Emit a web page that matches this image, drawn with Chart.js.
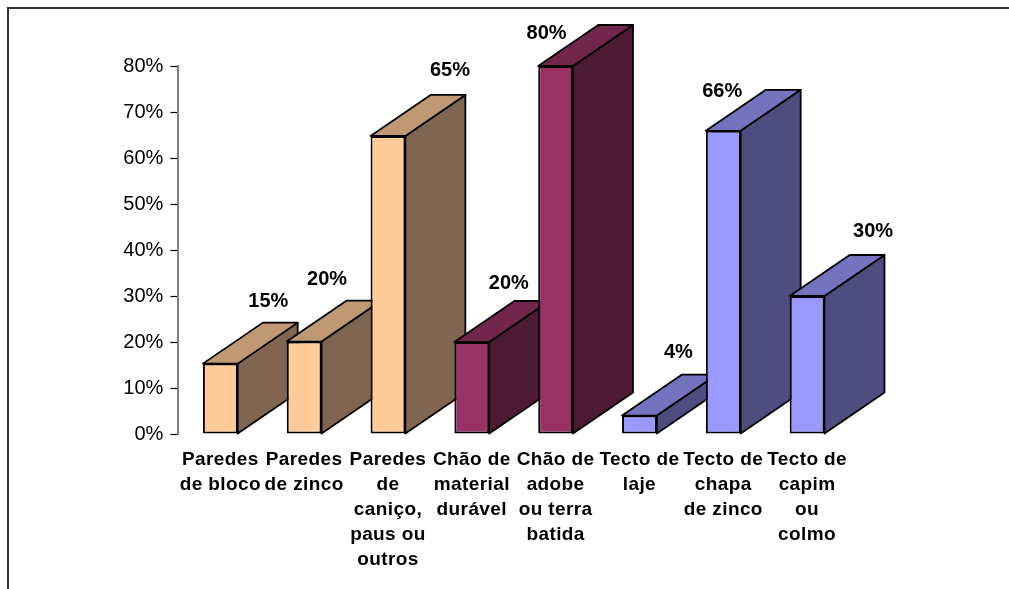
<!DOCTYPE html>
<html>
<head>
<meta charset="utf-8">
<title>Paredes, chão e tecto</title>
<script src="https://cdn.jsdelivr.net/npm/chart.js@4/dist/chart.umd.min.js"></script>
<style>
  html, body { margin: 0; padding: 0; background: #fff; overflow: hidden; }
  #wrap { position: relative; width: 1009px; height: 589px; }
  #frame { position: absolute; left: 7px; top: 7px; right: 0; bottom: 0; border-left: 2px solid #333; border-top: 2px solid #333; }
  canvas { position: absolute; left: 0; top: 0; }
</style>
</head>
<body>
<div id="wrap">
  <div id="frame"></div>
  <canvas id="chart" width="1009" height="589"></canvas>
</div>
<script>
const categories = [
  ['Paredes', 'de bloco'],
  ['Paredes', 'de zinco'],
  ['Paredes', 'de', 'caniço,', 'paus ou', 'outros'],
  ['Chão de', 'material', 'durável'],
  ['Chão de', 'adobe', 'ou terra', 'batida'],
  ['Tecto de', 'laje'],
  ['Tecto de', 'chapa', 'de zinco'],
  ['Tecto de', 'capim', 'ou', 'colmo']
];
const values = [15.3, 20.1, 64.8, 20, 80, 4, 65.9, 30];

const frontColors = ['#FFCC99', '#FFCC99', '#FFCC99', '#993366', '#993366', '#9999FF', '#9999FF', '#9999FF'];
const topColors = ['#BF9973', '#BF9973', '#BF9973', '#73264D', '#73264D', '#7373BF', '#7373BF', '#7373BF'];
const sideColors = ['#806650', '#806650', '#806650', '#4D1A33', '#4D1A33', '#4D4D80', '#4D4D80', '#4D4D80'];

// hand placed value labels, relative to the top of each bar
const labelDx = [48, 23, 62, 37, -9, 39, -1, 66];
const labelDy = [-62.5, -62.5, -65.5, -58.5, -33, -63.5, -39.5, -64.5];

const depthX = 60;
const depthY = 41;

// side and top faces go under the fronts, left to right
const boxFaces = {
  id: 'boxFaces',
  beforeDatasetsDraw(chart) {
    const ctx = chart.ctx;
    const bars = chart.getDatasetMeta(0).data;
    ctx.save();
    ctx.strokeStyle = '#000';
    ctx.lineWidth = 1.8;
    ctx.lineJoin = 'round';
    bars.forEach((bar, i) => {
      const left = bar.x - bar.width / 2;
      const right = bar.x + bar.width / 2;

      ctx.fillStyle = sideColors[i];
      ctx.beginPath();
      ctx.moveTo(right, bar.base);
      ctx.lineTo(right + depthX, bar.base - depthY);
      ctx.lineTo(right + depthX, bar.y - depthY);
      ctx.lineTo(right, bar.y);
      ctx.closePath();
      ctx.fill();
      ctx.stroke();

      ctx.fillStyle = topColors[i];
      ctx.beginPath();
      ctx.moveTo(left, bar.y);
      ctx.lineTo(left + depthX, bar.y - depthY);
      ctx.lineTo(right + depthX, bar.y - depthY);
      ctx.lineTo(right, bar.y);
      ctx.closePath();
      ctx.fill();
      ctx.stroke();
    });
    ctx.restore();
  }
};

const valueLabels = {
  id: 'valueLabels',
  afterDatasetsDraw(chart) {
    const ctx = chart.ctx;
    const bars = chart.getDatasetMeta(0).data;
    ctx.save();
    ctx.font = 'bold 20px "Liberation Sans"';
    ctx.fillStyle = '#000';
    ctx.textAlign = 'center';
    ctx.textBaseline = 'middle';
    bars.forEach((bar, i) => {
      ctx.fillText(Math.round(values[i]) + '%', bar.x + labelDx[i], bar.y + labelDy[i]);
    });
    ctx.restore();
    // x tick labels have z 1, so they are drawn after this
    ctx.letterSpacing = '0.4px';
  },
  afterDraw(chart) {
    chart.ctx.letterSpacing = '0px';
  }
};

new Chart(document.getElementById('chart'), {
  type: 'bar',
  data: {
    labels: categories,
    datasets: [{
      data: values,
      backgroundColor: frontColors,
      borderColor: '#000',
      borderWidth: 2,
      borderSkipped: false,
      barPercentage: 1,
      categoryPercentage: 0.415
    }]
  },
  plugins: [boxFaces, valueLabels],
  options: {
    responsive: false,
    animation: false,
    layout: { padding: { top: 66, right: 160, bottom: 0, left: 0 } },
    plugins: { legend: { display: false }, tooltip: { enabled: false } },
    scales: {
      x: {
        afterFit(scale) { scale.height = 155; },
        grid: { display: false },
        border: { display: false },
        ticks: {
          z: 1,
          autoSkip: false,
          maxRotation: 0,
          padding: 5,
          color: '#000',
          font: { family: '"Liberation Sans"', size: 19, weight: 'bold', lineHeight: 1.32 }
        }
      },
      y: {
        min: 0,
        max: 80,
        afterFit(scale) { scale.width = 178.4; },
        grid: { drawOnChartArea: false, tickLength: 8, tickColor: '#000', tickWidth: 1.2 },
        border: { color: '#808080', width: 2 },
        ticks: {
          stepSize: 10,
          padding: 7,
          color: '#000',
          font: { family: '"Liberation Sans"', size: 20 },
          callback: v => v + '%'
        }
      }
    }
  }
});
</script>
</body>
</html>
